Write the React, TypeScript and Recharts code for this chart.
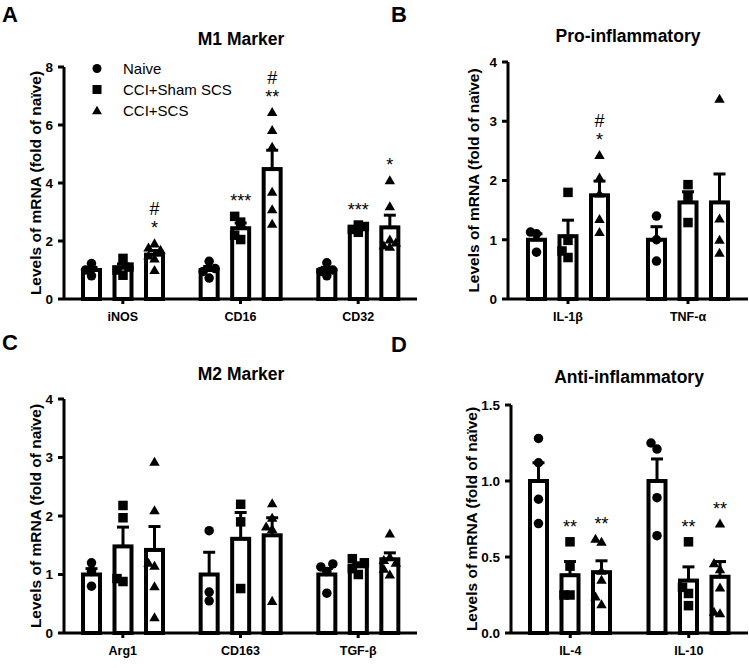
import React from 'react';
import { BarChart, Bar, XAxis, YAxis, ErrorBar, Legend } from 'recharts';

const FONT = '"Liberation Sans", Arial, Helvetica, sans-serif';

const GROUPS = ['Naive', 'CCI+Sham SCS', 'CCI+SCS'];
const MARKERS = ['circle', 'square', 'triangle'];
const Y_LABEL = 'Levels of mRNA (fold of naïve)';

// ---- Panel A: M1 Marker ----
const m1Categories = ['iNOS', 'CD16', 'CD32'];
const m1Ticks = [0, 2, 4, 6, 8];
const m1NaiveMean = [1.0, 1.0, 1.0];
const m1NaiveSem = [0.09, 0.12, 0.09];
const m1NaivePoints = [[0.8, 1.0, 1.22], [0.72, 0.95, 1.05, 1.3], [0.8, 0.95, 1.0, 1.25]];
const m1ShamMean = [1.08, 2.44, 2.44];
const m1ShamSem = [0.13, 0.18, 0.05];
const m1ShamPoints = [[0.82, 1.0, 1.1, 1.4], [2.05, 2.2, 2.65, 2.85], [2.3, 2.4, 2.5, 2.55]];
const m1ScsMean = [1.53, 4.48, 2.47];
const m1ScsSem = [0.14, 0.65, 0.42];
const m1ScsPoints = [[1.0, 1.4, 1.5, 1.7, 1.78, 1.92], [2.6, 3.1, 3.7, 5.25, 5.83, 6.45], [1.8, 1.85, 1.95, 2.05, 3.2, 4.1]];
const m1ShamStars = ['', '***', '***'];
const m1ScsStars = ['*', '**', '*'];
const m1ScsHash = ['#', '#', ''];

// ---- Panel B: Pro-inflammatory ----
const proCategories = ['IL-1β', 'TNF-α'];
const proTicks = [0, 1, 2, 3, 4];
const proNaiveMean = [1.0, 1.0];
const proNaiveSem = [0.1, 0.22];
const proNaivePoints = [[0.79, 1.1, 1.13], [0.64, 1.0, 1.4]];
const proShamMean = [1.06, 1.63];
const proShamSem = [0.27, 0.18];
const proShamPoints = [[0.7, 0.81, 0.99, 1.8], [1.29, 1.73, 1.93]];
const proScsMean = [1.75, 1.63];
const proScsSem = [0.24, 0.48];
const proScsPoints = [[1.13, 1.35, 1.78, 2.05, 2.43], [0.78, 1.0, 1.36, 3.38]];
const proShamStars = ['', ''];
const proScsStars = ['*', ''];
const proScsHash = ['#', ''];

// ---- Panel C: M2 Marker ----
const m2Categories = ['Arg1', 'CD163', 'TGF-β'];
const m2Ticks = [0, 1, 2, 3, 4];
const m2NaiveMean = [1.0, 1.0, 1.0];
const m2NaiveSem = [0.1, 0.38, 0.1];
const m2NaivePoints = [[0.8, 1.05, 1.2], [0.55, 0.7, 1.75], [0.68, 1.05, 1.13, 1.18]];
const m2ShamMean = [1.48, 1.61, 1.14];
const m2ShamSem = [0.33, 0.45, 0.06];
const m2ShamPoints = [[0.88, 0.93, 1.97, 2.18], [0.76, 1.9, 2.2], [1.0, 1.1, 1.2, 1.27]];
const m2ScsMean = [1.42, 1.67, 1.26];
const m2ScsSem = [0.4, 0.3, 0.11];
const m2ScsPoints = [[0.27, 0.8, 1.15, 1.2, 2.1, 2.93], [0.55, 1.78, 1.82, 1.97, 2.22], [1.0, 1.1, 1.2, 1.25, 1.3, 1.7]];

// ---- Panel D: Anti-inflammatory ----
const antiCategories = ['IL-4', 'IL-10'];
const antiTicks = [0, 0.5, 1.0, 1.5];
const antiNaiveMean = [1.0, 1.0];
const antiNaiveSem = [0.12, 0.145];
const antiNaivePoints = [[0.72, 0.88, 1.12, 1.28], [0.64, 0.89, 1.21, 1.25]];
const antiShamMean = [0.38, 0.345];
const antiShamSem = [0.09, 0.09];
const antiShamPoints = [[0.25, 0.25, 0.44, 0.6], [0.18, 0.26, 0.3, 0.6]];
const antiScsMean = [0.4, 0.37];
const antiScsSem = [0.075, 0.1];
const antiScsPoints = [[0.19, 0.24, 0.35, 0.41, 0.6, 0.62], [0.13, 0.14, 0.3, 0.42, 0.46, 0.72]];
const antiShamStars = ['**', '**'];
const antiScsStars = ['**', '**'];

type Row = Record<string, any>;

function buildRows(
  cats: string[],
  means: number[][],
  sems: number[][],
  pts: number[][][],
  stars: string[][],
  hashes: string[][]
): Row[] {
  return cats.map((c, i) => {
    const r: Row = { cat: c };
    for (let g = 0; g < 3; g++) {
      r[`m${g}`] = means[g][i];
      r[`e${g}`] = [0, sems[g][i]];
      r[`p${g}`] = pts[g][i];
      r[`s${g}`] = (stars[g] && stars[g][i]) || '';
      r[`h${g}`] = (hashes[g] && hashes[g][i]) || '';
    }
    return r;
  });
}

const none: string[] = [];

const m1Rows = buildRows(
  m1Categories,
  [m1NaiveMean, m1ShamMean, m1ScsMean],
  [m1NaiveSem, m1ShamSem, m1ScsSem],
  [m1NaivePoints, m1ShamPoints, m1ScsPoints],
  [none, m1ShamStars, m1ScsStars],
  [none, none, m1ScsHash]
);
const proRows = buildRows(
  proCategories,
  [proNaiveMean, proShamMean, proScsMean],
  [proNaiveSem, proShamSem, proScsSem],
  [proNaivePoints, proShamPoints, proScsPoints],
  [none, proShamStars, proScsStars],
  [none, none, proScsHash]
);
const m2Rows = buildRows(
  m2Categories,
  [m2NaiveMean, m2ShamMean, m2ScsMean],
  [m2NaiveSem, m2ShamSem, m2ScsSem],
  [m2NaivePoints, m2ShamPoints, m2ScsPoints],
  [none, none, none],
  [none, none, none]
);
const antiRows = buildRows(
  antiCategories,
  [antiNaiveMean, antiShamMean, antiScsMean],
  [antiNaiveSem, antiShamSem, antiScsSem],
  [antiNaivePoints, antiShamPoints, antiScsPoints],
  [none, antiShamStars, antiScsStars],
  [none, none, none]
);

function Marker({ kind, cx, cy, s }: { kind: string; cx: number; cy: number; s: number }) {
  if (kind === 'circle') return <circle cx={cx} cy={cy} r={s / 2} fill="#000" />;
  if (kind === 'square') return <rect x={cx - s / 2} y={cy - s / 2} width={s} height={s} fill="#000" />;
  const h = s * 0.95;
  const w = s * 1.1;
  return (
    <polygon
      points={`${cx},${cy - h * 0.55} ${cx - w / 2},${cy + h * 0.45} ${cx + w / 2},${cy + h * 0.45}`}
      fill="#000"
    />
  );
}

const MS = 9.5;

const makeShape = (g: number) => (props: any) => {
  const { x, y, width, height, payload } = props;
  const mean = payload[`m${g}`];
  if (!mean || !height) return <g />;
  const k = height / mean;
  const base = y + height;
  const cx = x + width / 2;
  const pys = (payload[`p${g}`] as number[]).map((v) => base - v * k).sort((a, b) => b - a);
  const placed: { x: number; y: number }[] = [];
  for (const py of pys) {
    let best = 0;
    let bestD = -1;
    for (const off of [0, -6, 6]) {
      let d = Infinity;
      for (const p of placed) d = Math.min(d, Math.hypot(p.x - (cx + off), p.y - py));
      if (d >= 8.5) {
        best = off;
        bestD = d;
        break;
      }
      if (d > bestD) {
        bestD = d;
        best = off;
      }
    }
    placed.push({ x: cx + best, y: py });
  }
  let topY = y - payload[`e${g}`][1] * k;
  for (const p of placed) topY = Math.min(topY, p.y);
  const star = payload[`s${g}`];
  const hash = payload[`h${g}`];
  return (
    <g>
      <rect x={x} y={y} width={width} height={height} fill="#fff" stroke="#000" strokeWidth={4} />
      {placed.map((p, i) => (
        <Marker key={i} kind={MARKERS[g]} cx={p.x} cy={p.y} s={MS} />
      ))}
      {star ? (
        <text x={cx} y={topY - 9} textAnchor="middle" fontSize={18} fontFamily={FONT} fill="#000">
          {star}
        </text>
      ) : null}
      {hash ? (
        <text x={cx} y={topY - 28} textAnchor="middle" fontSize={18} fontFamily={FONT} fill="#000">
          {hash}
        </text>
      ) : null}
    </g>
  );
};

const shapes = [makeShape(0), makeShape(1), makeShape(2)];

const renderLegend = (props: any) => {
  const items = [...((props && props.payload) || [])].sort(
    (a: any, b: any) => GROUPS.indexOf(a.value) - GROUPS.indexOf(b.value)
  );
  return (
    <div style={{ fontFamily: FONT, fontSize: 15, color: '#000' }}>
      {items.map((it: any, i: number) => {
        const idx = GROUPS.indexOf(it.value);
        return (
          <div key={i} style={{ display: 'flex', alignItems: 'center', height: 21 }}>
            <svg width={18} height={21} style={{ display: 'block' }}>
              <Marker kind={MARKERS[idx >= 0 ? idx : i]} cx={9} cy={10.5} s={9} />
            </svg>
            <span style={{ marginLeft: 17, lineHeight: '21px', whiteSpace: 'nowrap' }}>{it.value}</span>
          </div>
        );
      })}
    </div>
  );
};

type PanelProps = {
  rows: Row[];
  ticks: number[];
  left: number;
  top: number;
  width: number;
  height: number;
  marginTop: number;
  marginRight: number;
  yAxisWidth: number;
  xAxisHeight: number;
  labelX: number;
  legend?: boolean;
  decimals?: number;
};

function Panel(p: PanelProps) {
  const plotTop = p.marginTop;
  const plotBottom = p.height - p.xAxisHeight;
  const cy = (plotTop + plotBottom) / 2;
  const axisStyle = { stroke: '#000', strokeWidth: 3 };
  return (
    <div style={{ position: 'absolute', left: p.left, top: p.top, width: p.width, height: p.height }}>
      <BarChart
        width={p.width}
        height={p.height}
        data={p.rows}
        margin={{ top: p.marginTop, right: p.marginRight, bottom: 0, left: 0 }}
        barSize={17}
        barGap={14.5}
      >
        <XAxis
          dataKey="cat"
          height={p.xAxisHeight}
          interval={0}
          axisLine={axisStyle}
          tickLine={axisStyle}
          tickSize={5}
          tickMargin={8}
          tick={{ fill: '#000', fontSize: 12.5, fontWeight: 700, fontFamily: FONT }}
        />
        <YAxis
          width={p.yAxisWidth}
          domain={[p.ticks[0], p.ticks[p.ticks.length - 1]]}
          ticks={p.ticks}
          interval={0}
          axisLine={axisStyle}
          tickLine={axisStyle}
          tickSize={6}
          tickMargin={5}
          tickFormatter={(v: number) => (p.decimals ? v.toFixed(p.decimals) : String(v))}
          tick={{ fill: '#000', fontSize: 13.5, fontWeight: 700, fontFamily: FONT }}
          label={() => (
            <text
              x={p.labelX + 5}
              y={cy}
              transform={`rotate(-90, ${p.labelX + 5}, ${cy})`}
              textAnchor="middle"
              fontSize={15.5}
              fontWeight={700}
              fontFamily={FONT}
              fill="#000"
            >
              {Y_LABEL}
            </text>
          )}
        />
        {GROUPS.map((name, g) => (
          <Bar
            key={name}
            name={name}
            dataKey={`m${g}`}
            fill="#fff"
            stroke="#000"
            shape={shapes[g]}
            isAnimationActive={false}
          >
            <ErrorBar dataKey={`e${g}`} width={6} stroke="#000" strokeWidth={3} direction="y" />
          </Bar>
        ))}
        {p.legend ? (
          <Legend
            layout="vertical"
            align="center"
            verticalAlign="middle"
            content={renderLegend}
            wrapperStyle={{ left: 88, top: 57.5, width: 220 }}
          />
        ) : null}
      </BarChart>
    </div>
  );
}

const letterStyle = { fontSize: 22, fontWeight: 700, fontFamily: FONT };
const titleStyle = { fontSize: 17.5, fontWeight: 700, fontFamily: FONT };

export default function App() {
  return (
    <div style={{ position: 'absolute', left: 0, top: 0, width: 749, height: 668, background: '#fff', overflow: 'hidden' }}>
      <Panel rows={m1Rows} ticks={m1Ticks} left={0} top={0} width={420} height={330} marginTop={67} marginRight={3} yAxisWidth={64} xAxisHeight={31} labelX={36} legend />
      <Panel rows={proRows} ticks={proTicks} left={400} top={0} width={349} height={330} marginTop={62} marginRight={1} yAxisWidth={108} xAxisHeight={31} labelX={74} />
      <Panel rows={m2Rows} ticks={m2Ticks} left={0} top={330} width={420} height={338} marginTop={69} marginRight={3} yAxisWidth={64} xAxisHeight={35} labelX={36} />
      <Panel rows={antiRows} ticks={antiTicks} left={400} top={330} width={349} height={338} marginTop={75} marginRight={1} yAxisWidth={111} xAxisHeight={35} labelX={72} decimals={1} />
      <svg width={749} height={668} style={{ position: 'absolute', left: 0, top: 0, pointerEvents: 'none' }}>
        <text x={2} y={22} {...letterStyle}>A</text>
        <text x={391} y={22} {...letterStyle}>B</text>
        <text x={2} y={350} {...letterStyle}>C</text>
        <text x={391} y={352} {...letterStyle}>D</text>
        <text x={241} y={45} textAnchor="middle" {...titleStyle}>M1 Marker</text>
        <text x={628} y={42} textAnchor="middle" {...titleStyle}>Pro-inflammatory</text>
        <text x={241} y={380} textAnchor="middle" {...titleStyle}>M2 Marker</text>
        <text x={629} y={383} textAnchor="middle" {...titleStyle}>Anti-inflammatory</text>
      </svg>
    </div>
  );
}
